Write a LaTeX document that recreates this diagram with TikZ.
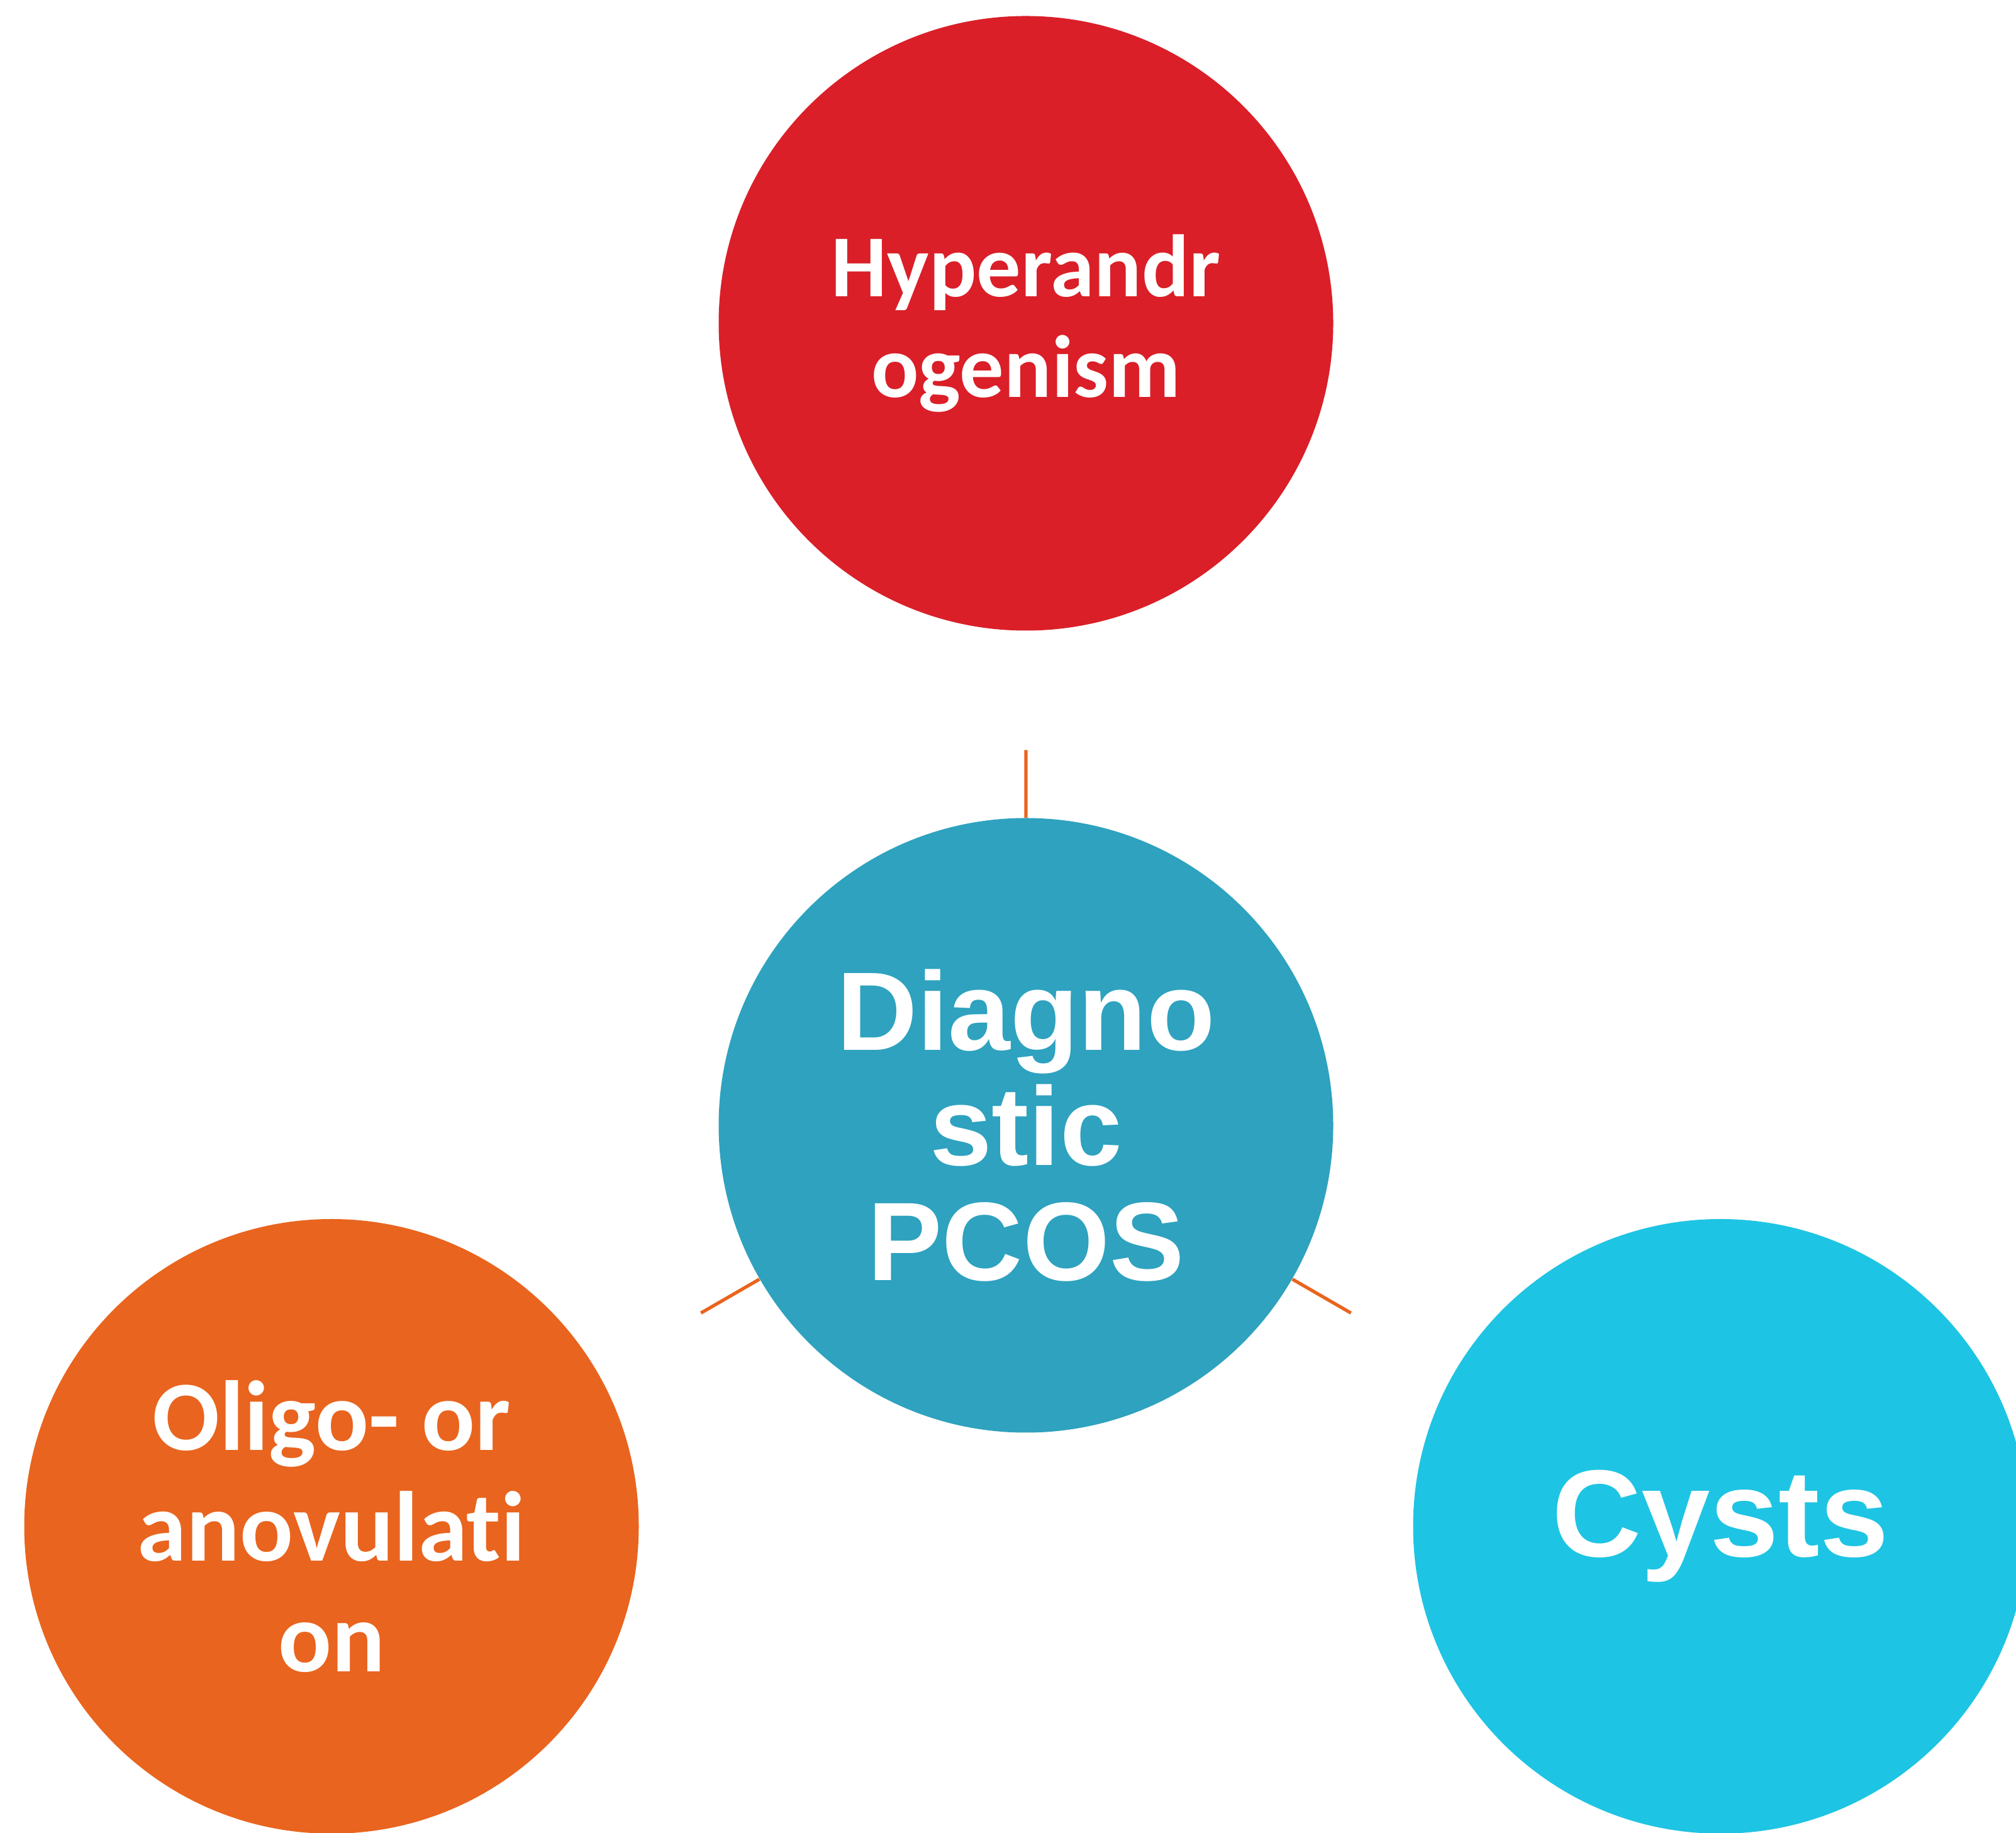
\documentclass[tikz,border=0pt]{standalone}
\usepackage{fontspec}
\usepackage{tikz}
\usetikzlibrary{calc}
\newfontfamily\calfont[Ligatures=NoCommon]{Carlito}
\newfontfamily\arifont{Liberation Sans}
\definecolor{hyperred}{HTML}{DA1F28}
\definecolor{pcosteal}{HTML}{2EA2BF}
\definecolor{ovuorange}{HTML}{E9641E}
\definecolor{cystblue}{HTML}{1EC4E3}

\begin{document}
\begin{tikzpicture}
\tikzstyle{bubble}=[circle, minimum size=9.77cm, inner sep=0pt, text=white, align=center]
\tikzstyle{spoke}=[draw=ovuorange, line width=1.5pt]
\useasboundingbox (0,0) rectangle (32.05,29.13);
% circles
\node [bubble, fill=pcosteal, font=\arifont\bfseries\fontsize{50.5}{52}\selectfont] (pcos) at (16.31,11.24) {Diagno\\stic\\PCOS};
\node [bubble, fill=hyperred, font=\calfont\bfseries\fontsize{40}{45.5}\selectfont] (hyper) at (16.31,23.99) {Hyperandr\\ogenism};
\node [bubble, fill=ovuorange, font=\calfont\bfseries\fontsize{45}{50}\selectfont] (ovul) at (5.27,4.865) {Oligo- or\\anovulati\\on};
\node [bubble, fill=cystblue, font=\arifont\bfseries\fontsize{56}{60}\selectfont] (cyst) at (27.35,4.865) {Cysts};
% spokes
\coordinate (s1) at ($(pcos)!0.468!(hyper)$);
\coordinate (s2) at ($(pcos)!0.468!(ovul)$);
\coordinate (s3) at ($(pcos)!0.468!(cyst)$);
\draw [spoke] (pcos) -- (s1);
\draw [spoke] (pcos) -- (s2);
\draw [spoke] (pcos) -- (s3);
\end{tikzpicture}
\end{document}
